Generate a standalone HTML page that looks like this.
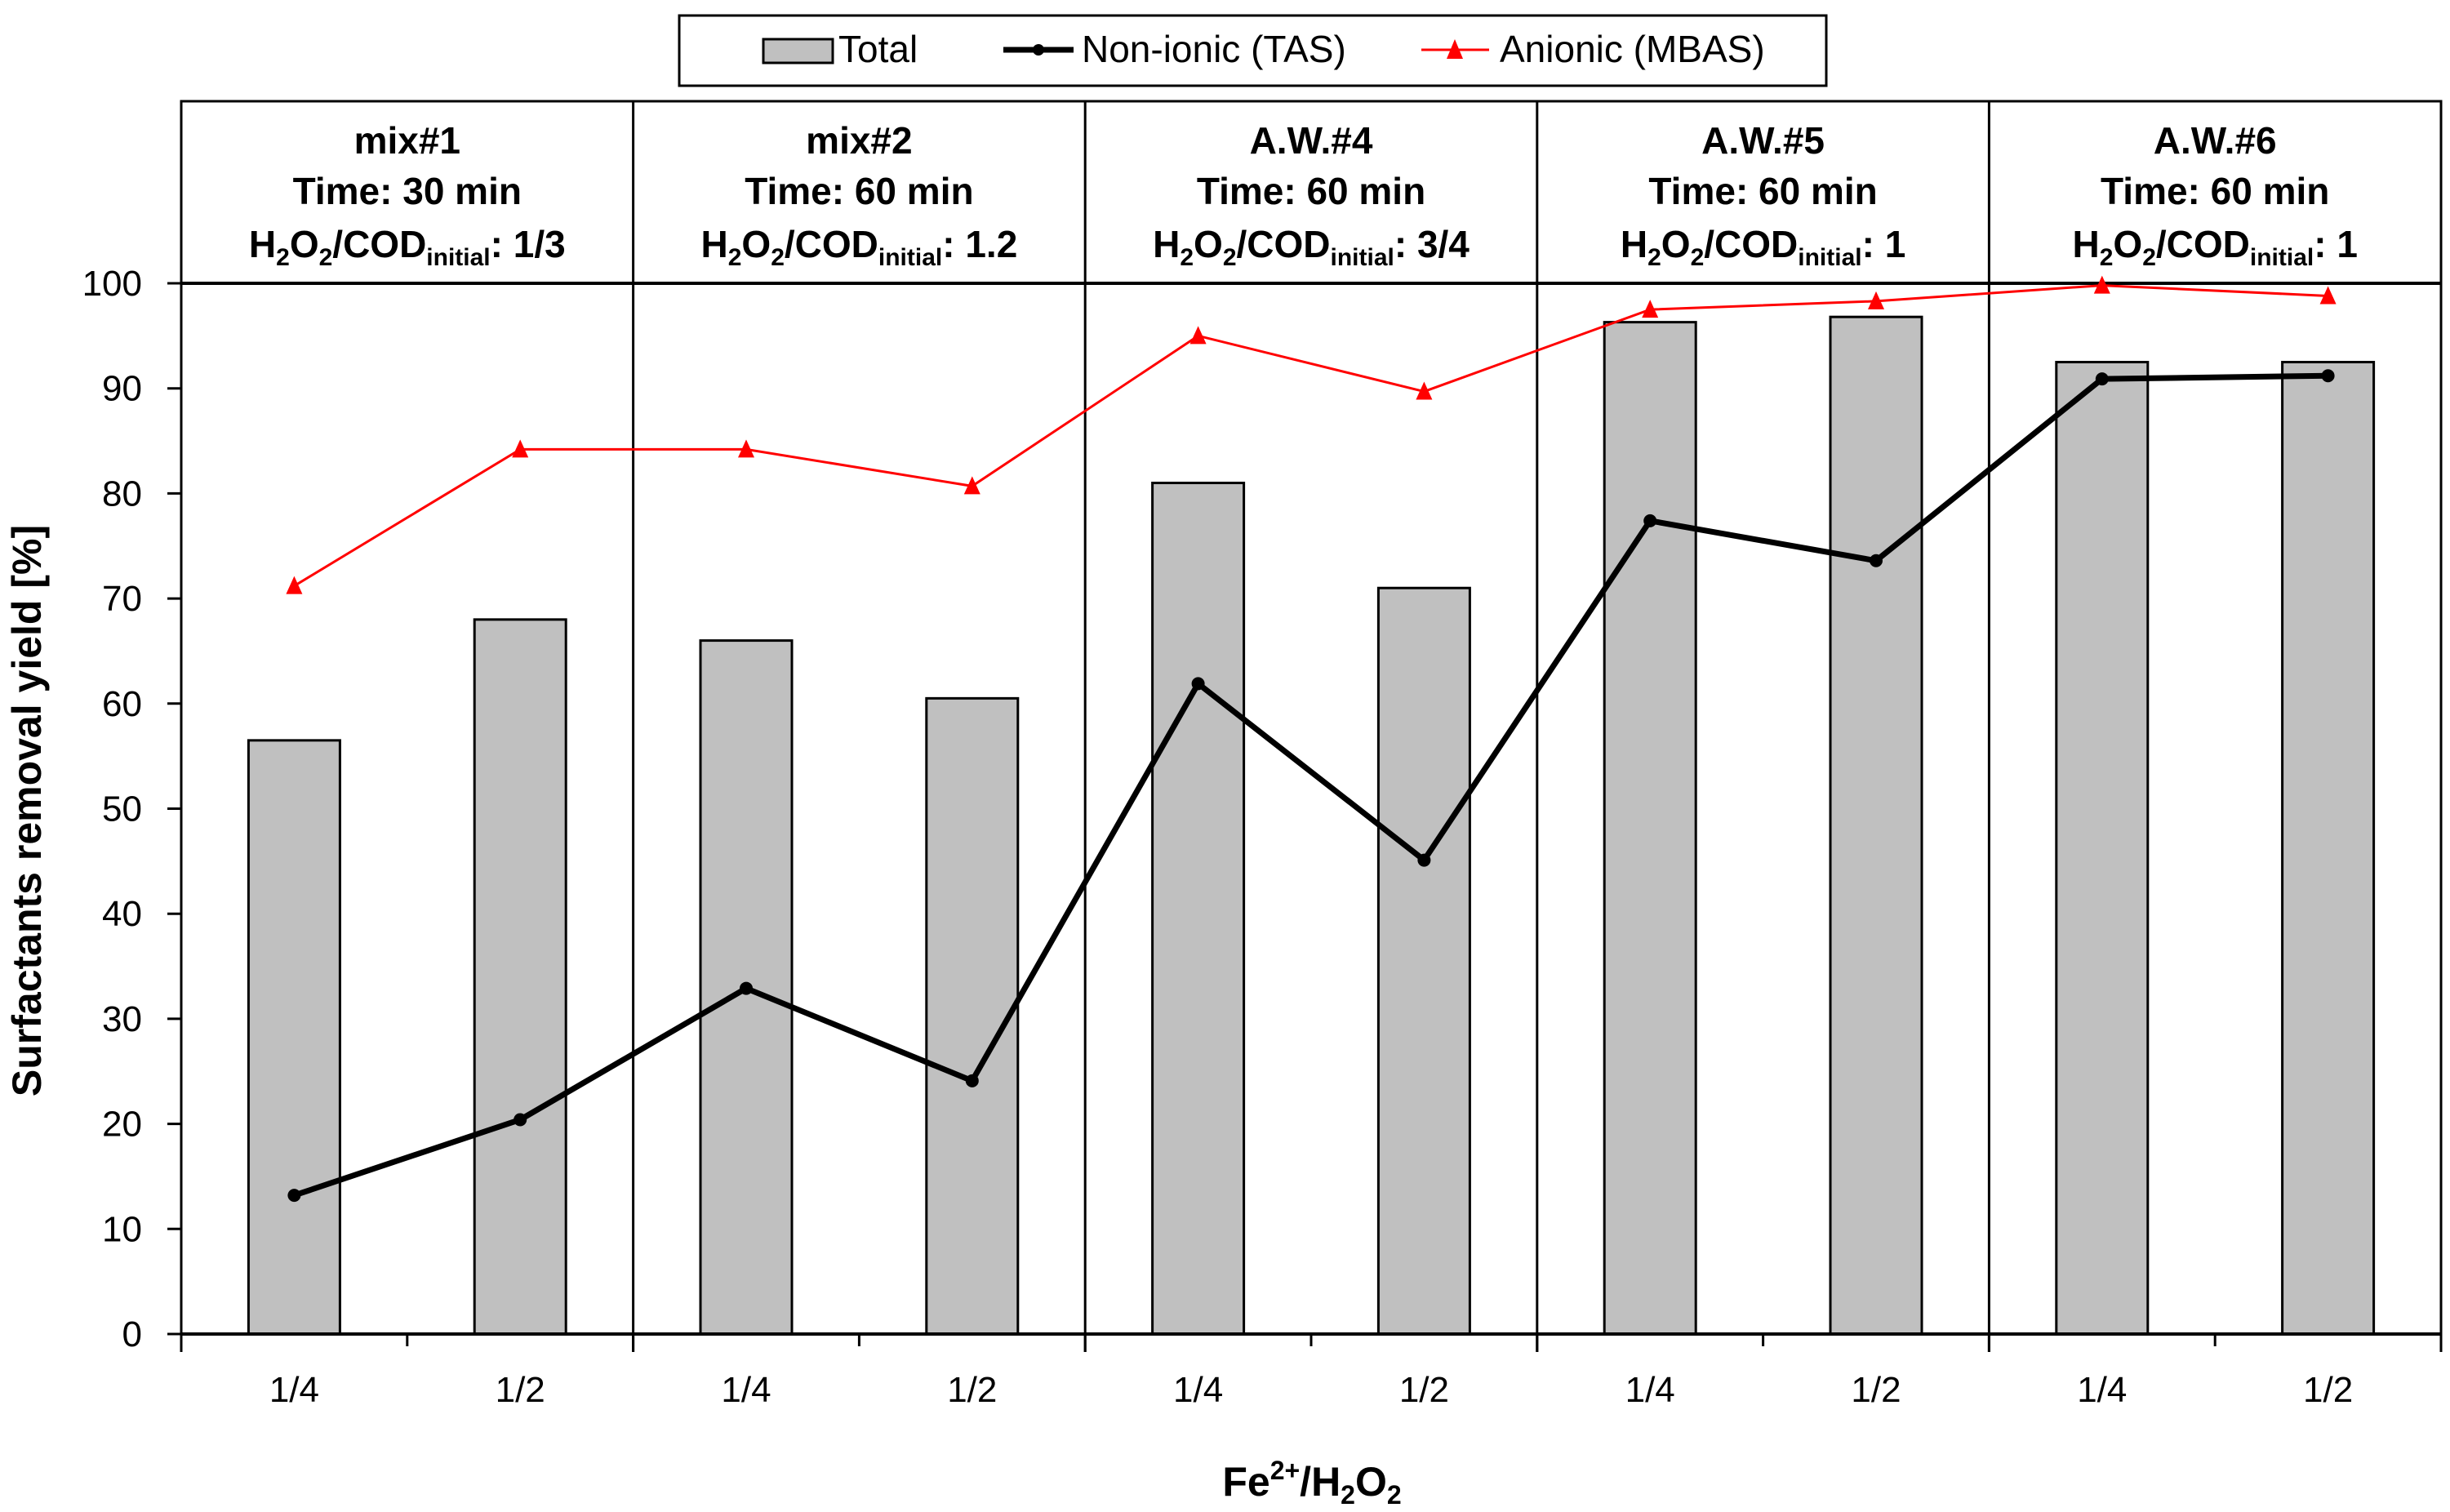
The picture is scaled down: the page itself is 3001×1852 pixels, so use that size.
<!DOCTYPE html>
<html><head><meta charset="utf-8"><style>
html,body{margin:0;padding:0;background:#fff;}
svg{display:block;font-family:"Liberation Sans Narrow","Liberation Sans",sans-serif;}
.hd{font-weight:bold;font-size:46px;text-anchor:middle;}
.tk{font-size:44px;}
</style></head><body>
<svg id="chart" width="3001" height="1852" viewBox="0 0 3001 1852" xmlns="http://www.w3.org/2000/svg">
<g id="legend">
<rect x="832" y="19" width="1405" height="86" fill="#fff" stroke="#000" stroke-width="3"/>
<g><rect x="935" y="48" width="85" height="29" fill="#c0c0c0" stroke="#000" stroke-width="3"/><text x="1027" y="76" font-size="46">Total</text></g>
<g><line x1="1229" y1="61" x2="1315" y2="61" stroke="#000" stroke-width="7"/><circle cx="1272" cy="61" r="7"/><text x="1325" y="76" font-size="46">Non-ionic (TAS)</text></g>
<g><line x1="1741" y1="61" x2="1824" y2="61" stroke="#f00" stroke-width="3"/><polygon points="1782,48 1772,72 1792,72" fill="#f00"/><text x="1837" y="76" font-size="46">Anionic (MBAS)</text></g>
</g>
<g id="header"></g>
<g id="plot"></g>
<text x="0" y="0" font-weight="bold" font-size="50" text-anchor="middle" transform="translate(50,993) rotate(-90)">Surfactants removal yield [%]</text>
<text x="1607" y="1832" font-weight="bold" font-size="50" text-anchor="middle">Fe<tspan font-size="32" dy="-20">2+</tspan><tspan dy="20">/H</tspan><tspan font-size="32" dy="10">2</tspan><tspan dy="-10">O</tspan><tspan font-size="32" dy="10">2</tspan></text>
</svg>
<script>
const categories = ["1/4","1/2","1/4","1/2","1/4","1/2","1/4","1/2","1/4","1/2"];
const totalValues = [56.5,68,66,60.5,81,71,96.3,96.8,92.5,92.5];
const nonIonicValues = [13.2,20.4,32.9,24.1,61.9,45.1,77.4,73.6,90.9,91.2];
const anionicValues = [71.2,84.2,84.2,80.7,95,89.7,97.5,98.3,99.8,98.8];
const groupNames = ["mix#1","mix#2","A.W.#4","A.W.#5","A.W.#6"];
const groupRatios = ["1/3","1.2","3/4","1","1"];
const groupTimes = ["30","60","60","60","60"];
const yTicks = [0,10,20,30,40,50,60,70,80,90,100];

const NS="http://www.w3.org/2000/svg";
const L=222,R=2990,Y0=1634,Y100=347,TOP=124;
const catW=(R-L)/categories.length;
const xC=i=>L+catW*(i+0.5);
const y=v=>Y0-(Y0-Y100)*v/100;
function mk(p,tag,a){const e=document.createElementNS(NS,tag);for(const k in a)e.setAttribute(k,a[k]);p.appendChild(e);return e;}
const plot=document.getElementById('plot'), hdr=document.getElementById('header');

// bars
totalValues.forEach((v,i)=>{
  const b=mk(plot,'rect',{x:xC(i)-56,y:y(v),width:112,height:Y0-y(v),fill:'#c0c0c0',stroke:'#000','stroke-width':3});
  
  
});
// group dividers & header
const gW=(R-L)/groupNames.length;
mk(plot,'rect',{x:L,y:TOP,width:R-L,height:Y0-TOP,fill:'none',stroke:'#000','stroke-width':3});
mk(plot,'line',{x1:L,y1:Y100,x2:R,y2:Y100,stroke:'#000','stroke-width':4});
for(let g=1;g<groupNames.length;g++) mk(plot,'line',{x1:L+g*gW,y1:TOP,x2:L+g*gW,y2:Y0+22,stroke:'#000','stroke-width':3});
groupNames.forEach((n,g)=>{
  const cx=L+gW*(g+0.5);
  const t1=mk(hdr,'text',{x:cx,y:188,class:'hd'});t1.textContent=n;
  
  
  const t2=mk(hdr,'text',{x:cx,y:250,class:'hd'});t2.textContent='Time: '+groupTimes[g]+' min';
  
  
  const t3=mk(hdr,'text',{x:cx,y:315,class:'hd'});
  t3.innerHTML='H<tspan font-size="30" dy="10">2</tspan><tspan dy="-10">O</tspan><tspan font-size="30" dy="10">2</tspan><tspan dy="-10">/COD</tspan><tspan font-size="30" dy="10">initial</tspan><tspan dy="-10">: '+groupRatios[g]+'</tspan>';
  
  
});
// axes
mk(plot,'line',{x1:L,y1:Y0,x2:R,y2:Y0,stroke:'#000','stroke-width':4});
yTicks.forEach(v=>{
  mk(plot,'line',{x1:L-17,y1:y(v),x2:L,y2:y(v),stroke:'#000','stroke-width':3});
  const t=mk(plot,'text',{x:174,y:y(v)+15,class:'tk','text-anchor':'end'});t.textContent=v;
  
  
});
for(let i=0;i<=categories.length;i++) mk(plot,'line',{x1:L+i*catW,y1:Y0,x2:L+i*catW,y2:Y0+(i%2?15:22),stroke:'#000','stroke-width':3});
categories.forEach((c,i)=>{
  const t=mk(plot,'text',{x:xC(i),y:1717,class:'tk','text-anchor':'middle'});t.textContent=c;
  
  
});
// anionic line
const ap=mk(plot,'polyline',{points:anionicValues.map((v,i)=>xC(i)+','+y(v)).join(' '),fill:'none',stroke:'#f00','stroke-width':3});


anionicValues.forEach((v,i)=>{
  const m=mk(plot,'polygon',{points:`${xC(i)},${y(v)-12} ${xC(i)-10},${y(v)+10} ${xC(i)+10},${y(v)+10}`,fill:'#f00'});
  
  
});
// non-ionic line
const np=mk(plot,'polyline',{points:nonIonicValues.map((v,i)=>xC(i)+','+y(v)).join(' '),fill:'none',stroke:'#000','stroke-width':7,'stroke-linejoin':'round'});


nonIonicValues.forEach((v,i)=>{
  const m=mk(plot,'circle',{cx:xC(i),cy:y(v),r:8,fill:'#000'});
  
  
});
</script>
</body></html>
